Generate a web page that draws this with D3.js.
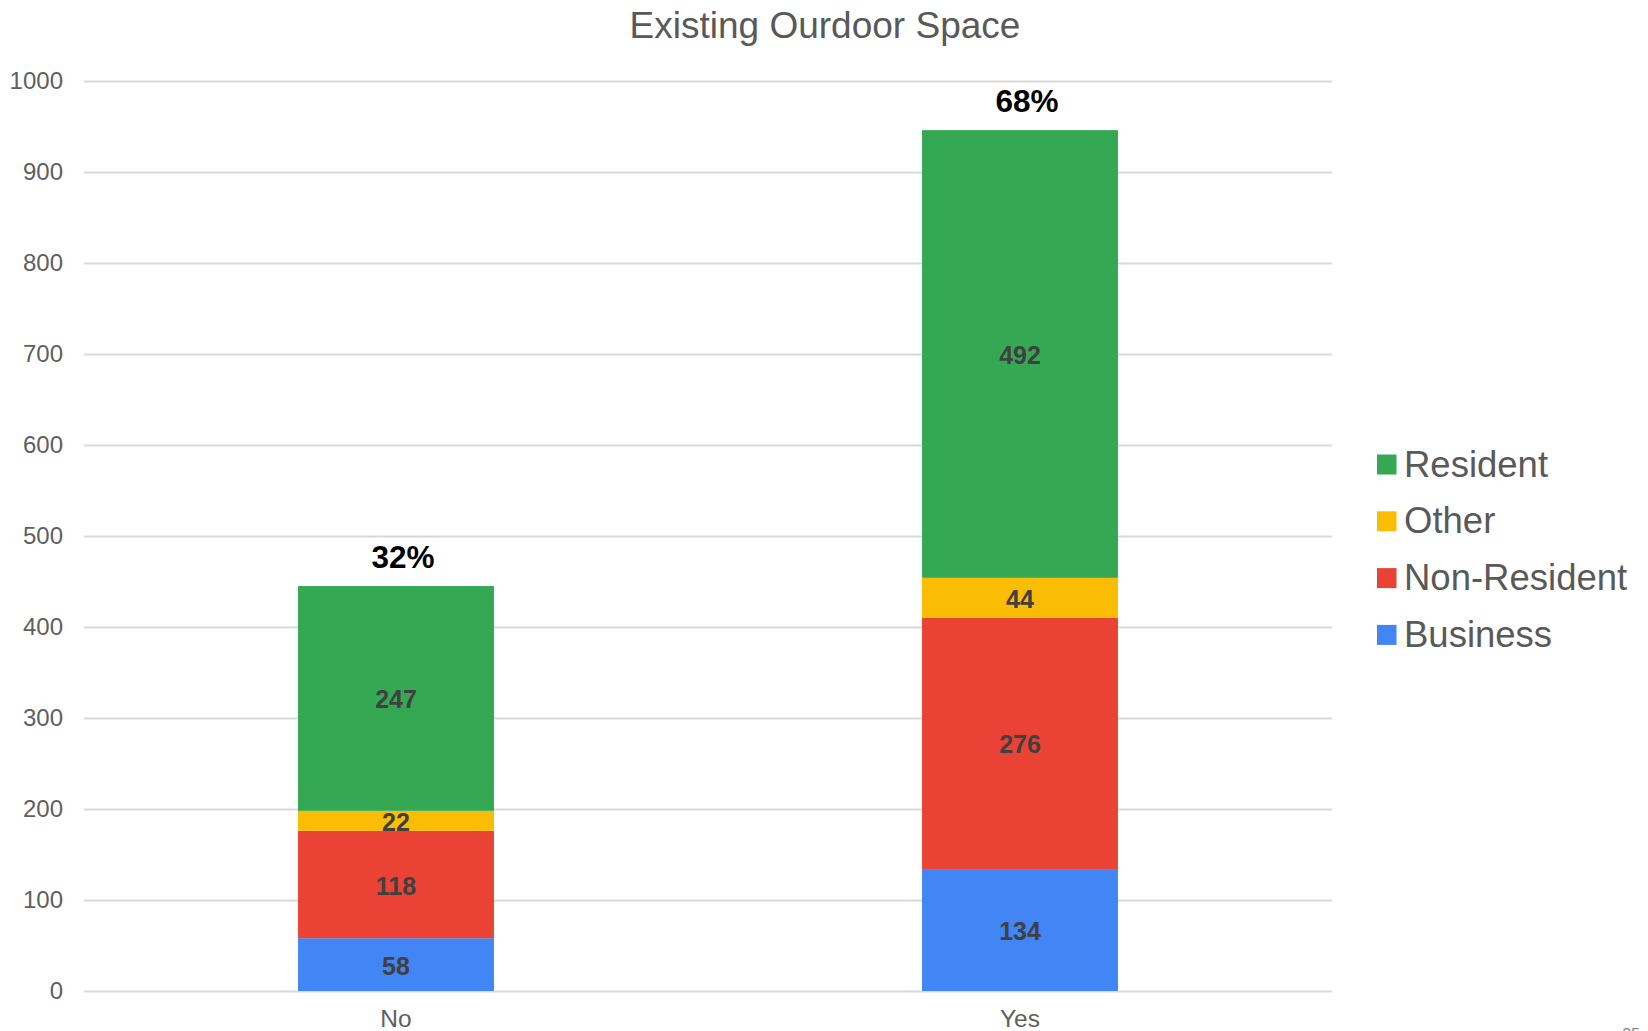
<!DOCTYPE html>
<html>
<head>
<meta charset="utf-8">
<script src="https://cdn.jsdelivr.net/npm/d3@7"></script>
<style>
  html, body { margin: 0; padding: 0; background: #fff; }
  svg { display: block; font-family: "Liberation Sans", Arial, sans-serif; }
</style>
</head>
<body>
<svg id="chart" width="1648" height="1031"></svg>
<script>
const title = "Existing Ourdoor Space";
const categories = ["No", "Yes"];
const seriesNames = ["Business", "Non-Resident", "Other", "Resident"];
const business = [58, 134];
const nonResident = [118, 276];
const other = [22, 44];
const resident = [247, 492];
const percentLabels = ["32%", "68%"];
const yTicks = [0, 100, 200, 300, 400, 500, 600, 700, 800, 900, 1000];
const colors = ["#4285f4", "#ea4335", "#fbbc04", "#34a853"];
const legendOrder = ["Resident", "Other", "Non-Resident", "Business"];
const slideNumber = "35";

const rows = categories.map((c, i) => ({
  cat: c,
  "Business": business[i],
  "Non-Resident": nonResident[i],
  "Other": other[i],
  "Resident": resident[i]
}));

const svg = d3.select("#chart");
const plotLeft = 84, plotRight = 1332, plotTop = 81, plotBottom = 991;

const x = d3.scaleBand().domain(categories).range([plotLeft, plotRight])
  .paddingInner(0.686).paddingOuter(0.343);
const y = d3.scaleLinear().domain([0, 1000]).range([plotBottom, plotTop]);
const color = d3.scaleOrdinal().domain(seriesNames).range(colors);

// title
svg.append("text")
  .attr("x", 825).attr("y", 38)
  .attr("text-anchor", "middle")
  .attr("font-size", 37)
  .attr("fill", "#595959")
  .text(title);

// gridlines
const grid = svg.append("g").attr("transform", `translate(${plotLeft},0)`)
  .call(d3.axisLeft(y).tickValues(yTicks).tickSize(-(plotRight - plotLeft)).tickFormat(""));
grid.select(".domain").remove();
grid.selectAll(".tick line").attr("stroke", "#d9d9d9").attr("stroke-width", 2);

// y axis labels
const yAxis = svg.append("g").attr("transform", `translate(${plotLeft},0)`)
  .call(d3.axisLeft(y).tickValues(yTicks).tickFormat(d3.format("d")).tickSize(0).tickPadding(21));
yAxis.select(".domain").remove();
yAxis.selectAll("text").attr("font-size", 24).attr("fill", "#5f5f5f")
  .attr("font-family", "'Liberation Sans', Arial, sans-serif");

// x axis labels
const xAxis = svg.append("g").attr("transform", `translate(0,${plotBottom})`)
  .call(d3.axisBottom(x).tickSize(0).tickPadding(19));
xAxis.select(".domain").remove();
xAxis.selectAll("text").attr("font-size", 24.5).attr("fill", "#5f5f5f")
  .attr("font-family", "'Liberation Sans', Arial, sans-serif");

// stacked bars
const stacked = d3.stack().keys(seriesNames)(rows);
const layers = svg.append("g").selectAll("g").data(stacked).join("g")
  .attr("fill", d => color(d.key));
layers.selectAll("rect").data(d => d).join("rect")
  .attr("x", d => x(d.data.cat))
  .attr("width", x.bandwidth())
  .attr("y", d => y(d[1]))
  .attr("height", d => y(d[0]) - y(d[1]));

// segment value labels
const lab = svg.append("g");
stacked.forEach(layer => {
  layer.forEach(d => {
    lab.append("text")
      .attr("x", x(d.data.cat) + x.bandwidth() / 2)
      .attr("y", y((d[0] + d[1]) / 2))
      .attr("dy", "0.4em")
      .attr("text-anchor", "middle")
      .attr("font-size", 25)
      .attr("font-weight", "bold")
      .attr("fill", "#404040")
      .text(d[1] - d[0]);
  });
});

// percentage labels
const totals = rows.map(r => seriesNames.reduce((s, k) => s + r[k], 0));
categories.forEach((c, i) => {
  svg.append("text")
    .attr("x", x(c) + x.bandwidth() / 2 + 7)
    .attr("y", y(totals[i]) - 18)
    .attr("text-anchor", "middle")
    .attr("font-size", 31.5)
    .attr("font-weight", "bold")
    .attr("fill", "#000")
    .text(percentLabels[i]);
});

// legend
const legend = svg.append("g").attr("transform", "translate(1377,0)");
legendOrder.forEach((name, i) => {
  const by = 476.5 + i * 56.8;
  legend.append("rect").attr("x", 0).attr("y", by - 22).attr("width", 19.5).attr("height", 20)
    .attr("fill", color(name));
  legend.append("text").attr("x", 27).attr("y", by)
    .attr("font-size", 36.5).attr("fill", "#595959").text(name);
});

// slide number (cut off at bottom, as in the source slide)
svg.append("text").attr("x", 1640).attr("y", 1040).attr("text-anchor", "end")
  .attr("font-size", 16).attr("fill", "#8a8a8a").text(slideNumber);
</script>
</body>
</html>
